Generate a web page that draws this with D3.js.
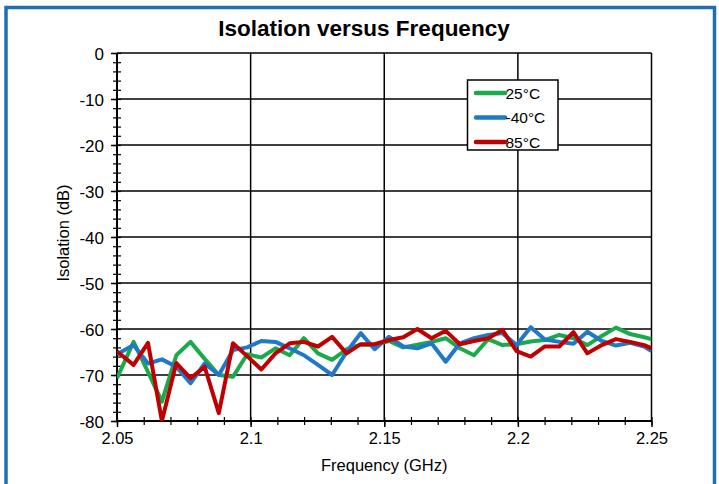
<!DOCTYPE html>
<html><head><meta charset="utf-8">
<script src="https://cdn.jsdelivr.net/npm/d3@7"></script>
<style>
html,body{margin:0;padding:0;background:#fff;}
svg{display:block;}
text{font-family:Arial,"Liberation Sans",sans-serif;fill:#000;}
</style></head>
<body>
<script>
const freq = [2.0500,2.0562,2.0616,2.0668,2.0722,2.0775,2.0828,2.0881,2.0934,2.0987,2.1040,2.1093,2.1146,2.1199,2.1252,2.1305,2.1359,2.1412,2.1464,2.1518,2.1571,2.1624,2.1677,2.1730,2.1783,2.1836,2.1889,2.1942,2.1995,2.2048,2.2101,2.2155,2.2208,2.2260,2.2314,2.2367,2.2420,2.2473,2.2500];
const iso25 = [-70.7,-62.8,-69.3,-75.8,-65.7,-62.8,-66.5,-70.0,-70.4,-65.5,-66.2,-64.2,-65.7,-62.0,-65.3,-66.7,-64.4,-63.4,-63.5,-62.6,-64.0,-63.4,-62.8,-62.0,-64.2,-65.7,-62.2,-63.5,-63.3,-62.7,-62.4,-61.3,-62.0,-63.5,-61.5,-59.7,-61.1,-61.8,-62.2];
const isoM40 = [-65.5,-63.5,-67.5,-66.6,-68.2,-71.8,-67.5,-70.0,-64.6,-64.0,-62.6,-62.8,-64.2,-65.7,-67.8,-70.0,-65.0,-60.9,-64.4,-61.7,-63.8,-64.2,-63.1,-67.1,-63.1,-62.0,-61.3,-60.9,-63.5,-59.6,-62.3,-62.8,-63.2,-60.6,-62.6,-63.6,-63.0,-63.8,-64.8];
const iso85 = [-64.9,-67.8,-63.0,-80.0,-67.4,-70.7,-68.2,-78.3,-63.1,-65.9,-68.8,-65.3,-63.1,-62.8,-63.8,-61.7,-65.3,-63.3,-63.3,-62.4,-61.8,-60.0,-62.0,-60.4,-63.3,-62.6,-62.0,-60.2,-64.8,-66.0,-63.8,-63.8,-60.7,-65.3,-63.5,-62.2,-62.8,-63.5,-64.2];
const seriesNames = ["25°C","-40°C","85°C"];
const seriesColors = ["#1aaa4b","#1f78c8","#c00000"];
const xTicks = [2.05,2.1,2.15,2.2,2.25];
const xTickLabels = ["2.05","2.1","2.15","2.2","2.25"];
const yTicks = [0,-10,-20,-30,-40,-50,-60,-70,-80];
const title = "Isolation versus Frequency";
const xTitle = "Frequency (GHz)";
const yTitle = "Isolation (dB)";

const W = 719, H = 484;
const m = {left:117, right:651.5, top:53, bottom:421};
const svg = d3.select("body").append("svg").attr("width",W).attr("height",H);

// outer blue frame
svg.append("rect").attr("x",6).attr("y",7.5).attr("width",708.5).attr("height",H+10)
  .attr("fill","none").attr("stroke","#1f6db5").attr("stroke-width",3.5);

const x = d3.scaleLinear().domain([2.05,2.25]).range([m.left,m.right]);
const y = d3.scaleLinear().domain([-80,0]).range([m.bottom,m.top]);

// title
svg.append("text").attr("x",364).attr("y",36).attr("text-anchor","middle")
  .attr("font-size",22.5).attr("font-weight","bold").text(title);

// gridlines
const g = svg.append("g");
g.selectAll(".hg").data(yTicks).enter().append("line")
  .attr("x1",m.left).attr("x2",m.right).attr("y1",d=>y(d)).attr("y2",d=>y(d))
  .attr("stroke","#000").attr("stroke-width",1.5);
g.selectAll(".vg").data(xTicks).enter().append("line")
  .attr("y1",m.top).attr("y2",m.bottom).attr("x1",d=>x(d)).attr("x2",d=>x(d))
  .attr("stroke","#000").attr("stroke-width",1.5);

// axes with minor ticks
const yMinor = d3.range(-80,0.001,2);
const xMinor = d3.range(2.05,2.2501,0.01);
const yAxisMinor = d3.axisLeft(y).tickValues(yMinor).tickSize(4).tickFormat("");
const yAxisMajor = d3.axisLeft(y).tickValues(yTicks).tickSize(6).tickFormat(d=>d);
const xAxisMinor = d3.axisBottom(x).tickValues(xMinor).tickSize(4).tickFormat("");
const xAxisMajor = d3.axisBottom(x).tickValues(xTicks).tickSize(6).tickFormat((d,i)=>xTickLabels[i]);

const ya = svg.append("g").attr("transform",`translate(${m.left},0)`);
ya.append("g").call(yAxisMinor).call(s=>{s.select(".domain").remove(); s.selectAll("line").attr("x2",4).attr("x1",-4).attr("stroke-width",1.2);});
const yM = ya.append("g").call(yAxisMajor);
yM.selectAll("line").attr("stroke-width",1.5);
yM.selectAll("text").attr("font-size",17).attr("font-family","Arial,'Liberation Sans',sans-serif").attr("x",-13).attr("dy","0.36em");

const xa = svg.append("g").attr("transform",`translate(0,${m.bottom})`);
xa.append("g").call(xAxisMinor).call(s=>{s.select(".domain").remove(); s.selectAll("line").attr("y1",-4).attr("y2",4).attr("stroke-width",1.2);});
const xM = xa.append("g").call(xAxisMajor);
xM.selectAll("line").attr("stroke-width",1.5);
xM.selectAll("text").attr("font-size",16.5).attr("font-family","Arial,'Liberation Sans',sans-serif").attr("y",11.5).attr("dy","0.71em");
svg.selectAll(".domain").remove();
svg.append("line").attr("x1",m.left).attr("x2",m.left).attr("y1",m.top).attr("y2",m.bottom).attr("stroke","#000").attr("stroke-width",2);
svg.append("line").attr("x1",m.left).attr("x2",m.right).attr("y1",m.bottom).attr("y2",m.bottom).attr("stroke","#000").attr("stroke-width",2);

// axis titles
svg.append("text").attr("x",(m.left+m.right)/2).attr("y",471).attr("text-anchor","middle")
  .attr("font-size",16.5).text(xTitle);
svg.append("text").attr("transform",`translate(69,${(m.top+m.bottom)/2 - 4}) rotate(-90)`)
  .attr("text-anchor","middle").attr("font-size",16.5).text(yTitle);

// clip
svg.append("clipPath").attr("id","clip").append("rect")
  .attr("x",m.left).attr("y",m.top-5).attr("width",m.right-m.left).attr("height",m.bottom-m.top+5);

const line = d3.line().x(d=>x(d[0])).y(d=>y(d[1]));
const allSeries = [iso25, isoM40, iso85];
const lg = svg.append("g").attr("clip-path","url(#clip)");
allSeries.forEach((s,i)=>{
  lg.append("path").datum(freq.map((f,j)=>[f,s[j]])).attr("d",line)
    .attr("fill","none").attr("stroke",seriesColors[i]).attr("stroke-width",4)
    .attr("stroke-linejoin","round");
});

// legend
const leg = svg.append("g");
leg.append("rect").attr("x",467.5).attr("y",80).attr("width",90.5).attr("height",70)
  .attr("fill","#fff").attr("stroke","#000").attr("stroke-width",1.5);
seriesNames.forEach((n,i)=>{
  const ly = 93 + i*24.5;
  leg.append("line").attr("x1",476).attr("x2",505).attr("y1",ly).attr("y2",ly)
    .attr("stroke",seriesColors[i]).attr("stroke-width",4.5).attr("stroke-linecap","round");
  leg.append("text").attr("x",505.5).attr("y",ly+5.5).attr("font-size",15.5).text(n);
});
</script>
</body></html>
